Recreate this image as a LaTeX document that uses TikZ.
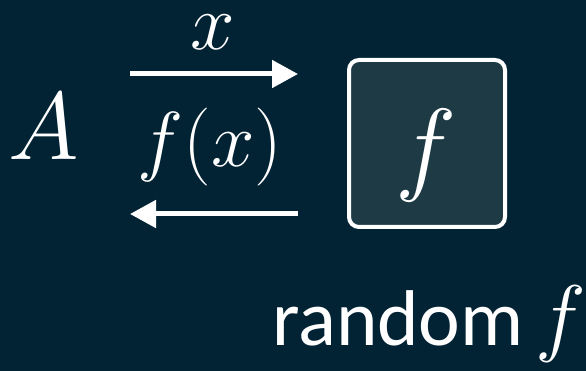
\documentclass[tikz,border=0pt]{standalone}
\usepackage{fix-cm}
\usepackage{fontspec}
\newfontfamily\carlito{Carlito}
\usetikzlibrary{arrows.meta}
\definecolor{bg}{RGB}{2,35,51}
\definecolor{boxfill}{RGB}{29,58,69}
\tikzset{
  lbl/.style={text=white, inner sep=0pt, anchor=base},
  arr/.style={white, line width=5pt, -{Triangle[length=26pt,width=27pt]}},
  fbox/.style={draw=white, line width=4pt, fill=boxfill, rounded corners=10pt, minimum width=156pt, minimum height=167pt, inner sep=0pt}
}
\begin{document}
\begin{tikzpicture}[x=1pt,y=-1pt]
\fill[bg] (0,0) rectangle (586,371);
\useasboundingbox (0,0) rectangle (586,371);
\node[lbl] (A) at (44,160) {\fontsize{96}{96}\selectfont$A$};
\node[lbl, text height=36pt] (xl) at (213,50) {\fontsize{80}{80}\selectfont$x$};
\node[lbl] (fx) at (210,167) {\fontsize{78}{78}\selectfont$f(x)$};
\node[fbox] (F) at (427,143.5) {};
\node[lbl] (Ff) at (426,182) {\fontsize{104}{104}\selectfont$f$};
\node[lbl, anchor=base west] (rnd) at (272,345) {\carlito\fontsize{79}{79}\selectfont random\hspace{12pt}{\fontsize{86}{86}\selectfont$f$}};
\coordinate (t1) at (130,74);
\coordinate (h1) at (298,74);
\coordinate (t2) at (298,214);
\coordinate (h2) at (130,214);
\draw[arr] (t1) -- (h1);
\draw[arr] (t2) -- (h2);
\end{tikzpicture}
\end{document}
